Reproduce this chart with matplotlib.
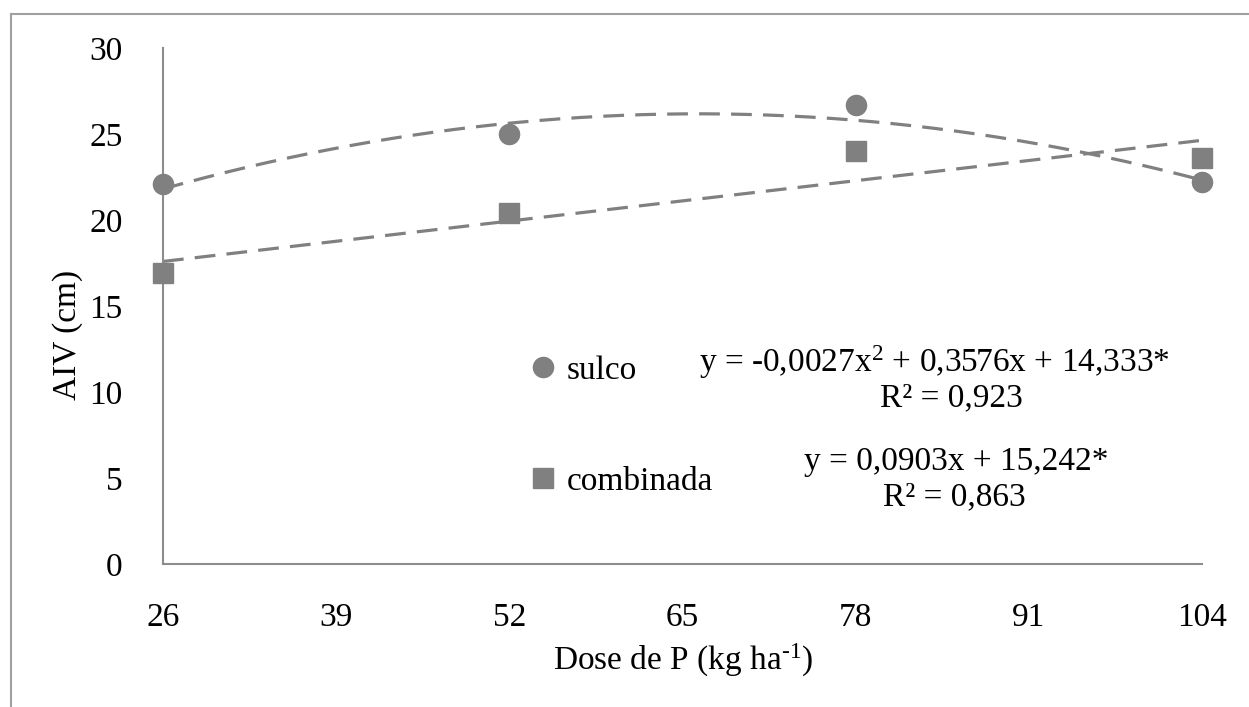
import numpy as np
import matplotlib
matplotlib.use("Agg")
import matplotlib.pyplot as plt
from matplotlib.lines import Line2D

# ---- data ----
doses = [26, 52, 78, 104]
sulco = [22.1, 25.0, 26.7, 22.2]
combinada = [16.9, 20.4, 24.0, 23.6]
coef_sulco = [-0.0027, 0.3576, 14.333]   # quadratic trend
coef_comb = [0.0903, 15.242]             # linear trend
xticks = [26, 39, 52, 65, 78, 91, 104]
yticks = [0, 5, 10, 15, 20, 25, 30]
eq_sulco = "y = -0,0027x$^{\\mathregular{2}}$ + 0,3576x + 14,333*"
r2_sulco = "R² = 0,923"
eq_comb = "y = 0,0903x + 15,242*"
r2_comb = "R² = 0,863"

plt.rcParams['font.family'] = ['Liberation Serif', 'DejaVu Serif']
plt.rcParams['mathtext.fontset'] = 'custom'
plt.rcParams['mathtext.rm'] = 'Liberation Serif'
plt.rcParams['mathtext.it'] = 'Liberation Serif:italic'

W, H = 1249, 707
fig = plt.figure(figsize=(W / 100, H / 100), dpi=100)
ax = fig.add_axes([163 / W, (H - 564) / H, (1202 - 163) / W, (564 - 48) / H])

gray = '#808080'
fs = 24

ax.plot(doses, sulco, 'o', color=gray, markersize=14.5, zorder=3, clip_on=False)
ax.plot(doses, combinada, 's', color=gray, markersize=14, zorder=3, clip_on=False)

xx = np.linspace(min(doses), max(doses), 300)
ax.plot(xx, np.polyval(coef_sulco, xx), color=gray, lw=2.3, dashes=(6.5, 3.5), zorder=2)
ax.plot(xx, np.polyval(coef_comb, xx), color=gray, lw=2.3, dashes=(6.5, 3.5), zorder=2)

ax.set_xlim(26, 104)
ax.set_ylim(0, 30)
ax.set_xticks(xticks)
ax.set_yticks(yticks)
ax.tick_params(length=0, labelsize=fs, colors='black')
ax.tick_params(axis='x', pad=28)
ax.tick_params(axis='y', pad=29)
for s in ['top', 'right']:
    ax.spines[s].set_visible(False)
for s in ['left', 'bottom']:
    ax.spines[s].set_color('#8c8c8c')
    ax.spines[s].set_linewidth(1.5)

ax.set_ylabel('AIV (cm)', fontsize=fs)
ax.yaxis.set_label_coords((83 - 163) / 1039, (564 - 335) / 516)
ax.set_xlabel('Dose de P (kg ha$^{\\text{-1}}$)', fontsize=fs)
ax.xaxis.set_label_coords((683 - 163) / 1039, (564 - 660) / 516)
ax.xaxis.label.set_verticalalignment('center')

handles = [Line2D([], [], marker='o', ls='none', color=gray, markersize=14.5),
           Line2D([], [], marker='s', ls='none', color=gray, markersize=14)]
leg = ax.legend(handles, ['sulco', 'combinada'], loc='center left',
                bbox_to_anchor=((530 - 163) / 1039, (564 - 426) / 516),
                frameon=False, fontsize=fs, labelspacing=2.4,
                handlelength=0.8, handletextpad=0.3, borderpad=0, borderaxespad=0)

def ap(px, py):
    return (px - 163) / 1039, (564 - py) / 516

for txt, (px, py) in [(eq_sulco, (934, 362)), (r2_sulco, (951, 398)),
                      (eq_comb, (956, 462)), (r2_comb, (954, 497))]:
    x, y = ap(px, py)
    ax.text(x, y, txt, transform=ax.transAxes, ha='center', va='center', fontsize=fs)

# outer border (top and left only)
fig.add_artist(Line2D([11 / W, 1.0], [1 - 14 / H, 1 - 14 / H], transform=fig.transFigure,
                      color='#a0a0a0', lw=1.5))
fig.add_artist(Line2D([11 / W, 11 / W], [0, 1 - 14 / H], transform=fig.transFigure,
                      color='#a0a0a0', lw=1.5))

fig.savefig('out.png', dpi=100)
